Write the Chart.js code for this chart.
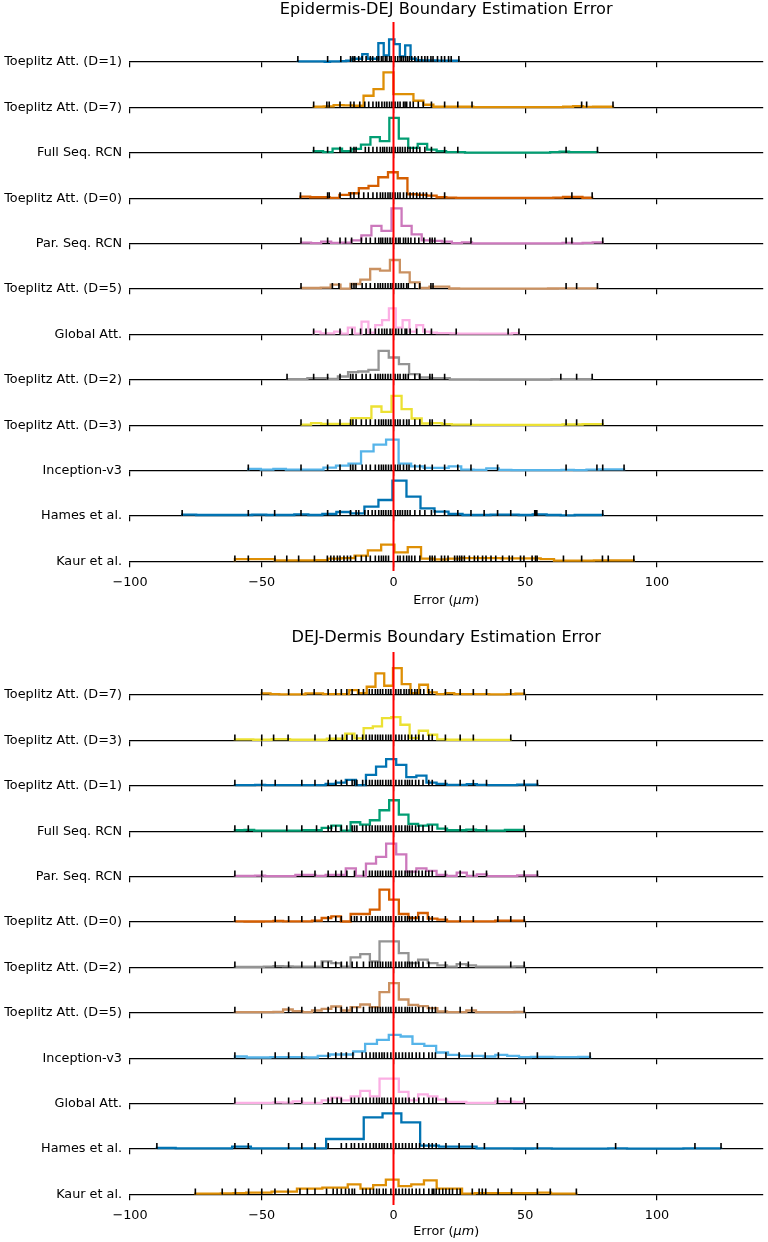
<!DOCTYPE html>
<html>
<head>
<meta charset="utf-8">
<script src="https://cdn.jsdelivr.net/npm/chart.js@4.4.1/dist/chart.umd.min.js"></script>
<style>
  html, body { margin: 0; padding: 0; background: #fff; }
  canvas { display: block; }
</style>
</head>
<body>
<canvas id="epiChart" width="768" height="620"></canvas>
<canvas id="dejChart" width="768" height="622"></canvas>
<script>
// =========================================================
// Data: per method, histogram heights (30 bins between min and max error)
// and the individual errors (rug ticks), in micrometres.
const xTicks = [-100, -50, 0, 50, 100];
const refX = 0;

const palette = {
  blue: '#0173B2', orange: '#DE8F05', green: '#029E73', vermillion: '#D55E00',
  purple: '#CC78BC', tan: '#CA9161', pink: '#FBAFE4', grey: '#949494',
  yellow: '#ECE133', sky: '#56B4E9'
};

// ---- Epidermis-DEJ ----
const epiD1Counts = [0.7, 0.7, 0.7, 0.7, 0.7, 0.3, 0.7, 0.7, 1, 1.3, 3.3, 3.3, 8, 3.3, 3.3, 19, 6.7, 22.7, 18, 5.7, 16.7, 3.3, 2, 1.7, 1.7, 1.7, 1.3, 1.3, 1.3, 1.3];
const epiD1Err = [-36.3, -25, -20, -16.3, -15.4, -14.7, -13.2, -11.9, -10.4, -8.8, -7.9, -6.3, -5.6, -4.6, -4, -3.1, -2.5, -1.5, -0.9, 0.6, 1.6, 2.5, 3.1, 3.8, 4.6, 5.3, 6, 6.9, 8.1, 9.4, 10.7, 11.9, 12.9, 14.2, 15, 16.7, 18.2, 19.4, 20.9, 21.9, 24.8];

const epiD7Counts = [0.7, 1, 2.3, 2, 1.7, 11.7, 18.3, 35, 13.3, 13.3, 6.7, 2.7, 0.7, 0.7, 0.7, 0.7, 0.3, 0.3, 0.3, 0.3, 0.3, 0.3, 0.3, 0.3, 0.3, 0.7, 1.3, 0.5, 0.7, 0.7];
const epiD7Err = [-30.3, -25.3, -24.4, -20.3, -16.3, -15, -12.8, -10.9, -9.4, -7.8, -6.5, -5.6, -4.4, -3.4, -2.5, -1.5, -0.6, 0.6, 1.6, 2.5, 3.8, 4.4, 5, 6.3, 7.5, 9.4, 11.3, 14.4, 19.4, 24.4, 29.8, 71.4, 73.3, 83.3];

const epiFullCounts = [1.7, 0.7, 4.3, 1.7, 4, 8.3, 15.7, 11.7, 35, 14.3, 5, 9, 3.3, 1.7, 0.7, 0.7, 0.3, 0.3, 0.3, 0.3, 0.3, 0.3, 0.3, 0.3, 0.3, 0.7, 1.3, 0.7, 0.7, 0.7];
const epiFullErr = [-30.3, -25, -20.3, -16.3, -15, -14.2, -10.7, -9.4, -7.8, -6.3, -5, -4.1, -3.4, -2.5, -1.5, -0.6, 0.6, 1.6, 2.5, 3.4, 4.4, 5.4, 6.3, 7.5, 8.8, 10, 11.9, 14.4, 19.4, 24.4, 65.5, 77.4];

const epiD0Counts = [1.7, 1, 1, 0.3, 3.3, 5, 10, 12.3, 21, 26, 20, 4, 3.3, 2.7, 1, 0.7, 0.3, 0.3, 0.3, 0.3, 0.3, 0.3, 0.3, 0.3, 0.3, 0.3, 0.7, 1.3, 1.3, 0.5];
const epiD0Err = [-35.3, -25, -24.4, -20.3, -16.3, -15, -13.2, -11.3, -9.6, -7.8, -6.3, -5, -4.1, -3.1, -2.1, -1.3, -0.4, 0.6, 1.6, 2.5, 3.8, 5, 6.3, 7.5, 8.8, 10, 11.3, 12.5, 14.4, 19.4, 67.7, 75.4];

const epiParCounts = [1, 0.5, 2, 0.7, 1, 3.3, 8.3, 17.7, 12.7, 35.3, 17.7, 9.3, 3.3, 2.7, 2, 0.5, 1.3, 0.3, 0.3, 0.3, 0.3, 0.3, 0.3, 0.3, 0.3, 0.3, 0.7, 0.3, 0.7, 1.3];
const epiParErr = [-35.1, -25, -20.3, -18.2, -15.9, -12.2, -10.4, -8.8, -6.9, -5.6, -4.8, -4.1, -3.1, -2.3, -1.3, -0.4, 0.9, 1.9, 2.5, 3.8, 4.6, 5.6, 6.6, 8.1, 9.6, 11.5, 13.8, 14.7, 15.7, 19.4, 29.4, 65.5, 67.7, 79.4];

const epiD5Counts = [1, 1, 1.3, 4.3, 0.3, 5, 9.3, 20, 18.3, 29, 16.7, 6.7, 1, 2.3, 2.3, 0.5, 0.3, 0.3, 0.3, 0.3, 0.3, 0.3, 0.3, 0.3, 0.3, 0.5, 0.7, 0.7, 0.7, 0.7];
const epiD5Err = [-35.1, -23.2, -20.7, -15.9, -15, -14.2, -11.9, -10.4, -8.8, -7.1, -5.9, -5, -4.1, -3.1, -2.1, -1.1, -0.4, 0.9, 1.9, 2.9, 3.8, 5, 5.6, 8.1, 10, 14.2, 15, 65.5, 69.5, 77.4];

const epiGlobCounts = [2.7, 1, 1, 2.7, 0.7, 6.7, 0.7, 12.7, 1.7, 9.3, 14.3, 26, 6.7, 14.3, 2.7, 9.3, 2.7, 1.7, 1.3, 1.3, 1, 0.7, 0.7, 0.7, 0.7, 0.7, 0.7, 0.7, 0.7, 1.3];
const epiGlobErr = [-30.3, -25.7, -20.3, -15.7, -12.5, -10.4, -8.8, -6.9, -5.6, -4.4, -3.4, -2.5, -1.3, -0.4, 0.9, 1.9, 3.1, 4.4, 5, 6.3, 8.8, 11.9, 14.4, 23.8, 43.5, 47.6];

const epiD2Counts = [0.7, 0.7, 1.7, 1.7, 1, 3.3, 7.7, 8.3, 10, 29, 22.3, 15.7, 5.7, 2.3, 1.7, 1.7, 0.5, 0.5, 0.5, 0.3, 0.3, 0.3, 0.3, 0.3, 0.3, 0.3, 0.7, 0.7, 0.7, 0.7];
const epiD2Err = [-40.4, -30.3, -25, -20.3, -16.3, -15.4, -14.2, -11.9, -10.4, -8.8, -6.9, -5.9, -5, -4.1, -3.1, -2.1, -1.1, 0.6, 1.6, 2.5, 3.8, 4.6, 5.6, 8.1, 10, 13.8, 14.7, 19.4, 63.5, 69.5, 75.4];

const epiD3Counts = [0.5, 2, 1.3, 1.3, 1.3, 7, 7, 18.7, 13.3, 29.3, 16, 6.7, 1.7, 2, 1, 0.5, 0.5, 0.3, 0.3, 0.3, 0.3, 0.3, 0.3, 0.3, 0.3, 0.3, 0.7, 0.7, 1, 1];
const epiD3Err = [-35.1, -25, -20.3, -16.3, -15.4, -14.2, -12.2, -10.4, -8.8, -6.9, -5.6, -4.6, -3.8, -2.9, -1.9, -1, 0.6, 1.6, 2.5, 3.8, 5, 5.9, 8.1, 10, 13.8, 14.7, 19.4, 29.4, 65.5, 69.5, 79.4];

const epiIncCounts = [1.7, 1, 1.7, 1, 1, 1, 3, 5, 7, 19.3, 26, 31, 7, 4.3, 2.7, 2.7, 4.3, 1, 0.7, 2.3, 0.7, 0.5, 0.5, 0.5, 0.5, 0.7, 0.5, 1, 1.3, 1.3];
const epiIncErr = [-55.1, -35.1, -25, -20.3, -16.3, -15.4, -14.4, -11.9, -10.4, -8.8, -6.9, -5.6, -4.6, -3.8, -2.9, -1.9, -0.9, 0.6, 1.6, 2.5, 3.8, 5, 5.9, 8.1, 10, 11.9, 14.7, 19.4, 24.4, 29.4, 39.5, 65.5, 77.2, 79.4, 87.5];

const epiHamesCounts = [1.3, 1, 1, 1, 1, 1.3, 1, 1, 1.7, 1, 2, 4, 2.7, 9.3, 16, 35.3, 19.3, 7.7, 4.3, 2, 1, 1, 1.3, 1.3, 1, 1.7, 1, 0.7, 1, 1];
const epiHamesErr = [-80.2, -55.1, -45.1, -35.1, -25, -20.3, -16.3, -14.2, -13.2, -10.9, -9.6, -8.1, -6.9, -5.6, -4.6, -3.8, -2.9, -1.9, -1, 0.6, 1.6, 2.5, 3.4, 4.4, 5.3, 6.3, 8.1, 10, 11.9, 14.4, 15.7, 19.4, 24.4, 29.4, 34.4, 39.5, 44.5, 53.6, 54, 54.4, 65.5, 79.4];

const epiKaurCounts = [2.3, 2.3, 2.3, 1, 1, 1, 1.3, 2.7, 3.3, 5.7, 11, 16.7, 9, 14.3, 2.7, 2, 2.7, 3.3, 3.3, 3.3, 3, 3, 3, 2.3, 0.7, 0.7, 0.7, 1, 1, 1];
const epiKaurErr = [-60.2, -55.1, -45, -40.5, -36, -30, -25.1, -23.8, -22.6, -21.3, -20.3, -18.8, -17.5, -16.3, -14.4, -12.2, -10.4, -8.8, -6.9, -5.6, -4.6, -3.8, -2.9, -1.9, 1.6, 2.5, 3.8, 5, 5.9, 6.9, 8.1, 10, 13.8, 14.7, 15.7, 18.2, 19.4, 20.7, 23.2, 24.2, 25.1, 25.9, 26.9, 28.8, 30.7, 32, 33.8, 35.1, 37, 38.8, 41.4, 43.9, 45.1, 48.2, 49.5, 52.6, 53.9, 54.5, 64.5, 71.4, 79.3, 81.5, 91.2];

// ---- DEJ-Dermis ----
const dejD7Counts = [1.7, 1, 0.7, 0.7, 0.7, 1.7, 1.7, 1, 1, 1, 5, 2, 8.3, 21.7, 9.3, 27, 11, 2, 10.3, 2.7, 1, 2, 1, 1, 1, 1, 0.7, 0.7, 1, 1.3];
const dejD7Err = [-50, -39.8, -34.8, -30.1, -24.8, -21.9, -19.8, -17.7, -15.7, -13.2, -11.4, -9.2, -8.1, -6.9, -6, -5, -4.1, -2.9, -1.9, -1, 0.9, 1.9, 2.8, 4, 4.9, 5.9, 6.9, 8.1, 9, 10.2, 11.5, 13.4, 14.7, 19.7, 25.3, 30.3, 35.3, 44.5, 49.6];

const dejD3Counts = [1, 1, 0.7, 0.7, 1.3, 1.3, 0.7, 0.7, 0.7, 0.7, 1.7, 1.7, 6.7, 2, 12.3, 14, 22.3, 23.3, 15.7, 2.3, 9.7, 5.7, 1, 0.7, 0.7, 0.7, 0.5, 0.5, 0.5, 0.5];
const dejD3Err = [-60.2, -50, -45.5, -40, -29.8, -24.2, -21.9, -19.4, -17.7, -15.7, -13.9, -11.7, -10.4, -9.1, -8.1, -6.9, -6, -5, -4.1, -2.9, -1.9, -1, 0.9, 2.1, 3.1, 4.4, 5.6, 6.9, 8.4, 9.6, 11.2, 13.4, 14.7, 19.7, 25.3, 30.3, 44.5];

const dejD1Counts = [0.7, 0.7, 1, 0.7, 0.7, 0.7, 0.7, 0.7, 0.7, 2, 3.3, 6, 0.7, 11, 19.3, 26.7, 21, 8.7, 10.3, 3.3, 2, 1, 1, 1.7, 1, 0.7, 0.7, 0.7, 1.3, 1.3];
const dejD1Err = [-60.2, -50, -44.9, -34.8, -29.8, -24.8, -21.9, -19.8, -17.7, -15.7, -14.8, -13.9, -11.7, -10.4, -9.1, -8.1, -6.9, -6, -5, -4.1, -2.9, -1.9, -1, 0.9, 2.1, 3.1, 4.4, 5.3, 6.1, 7.1, 8.4, 9.6, 11.2, 13.4, 14.7, 19.7, 25.3, 30.3, 35.3, 49.6, 54.6];

const dejFullCounts = [1, 1.3, 0.7, 0.7, 0.7, 0.7, 0.7, 1, 1, 3.3, 5.7, 0.7, 9, 6.7, 11, 21, 31, 16.7, 7.3, 5.7, 6.7, 2.7, 1, 1, 1.7, 1, 0.7, 0.7, 1.3, 1.3];
const dejFullErr = [-60.2, -55.1, -40.5, -34.8, -29.2, -24.8, -23.6, -21.9, -19.8, -17.7, -15.7, -14.8, -13.9, -11.7, -10.4, -9.1, -8.1, -6.9, -6, -5, -4.1, -2.9, -1.9, -1, 0.9, 2.1, 3.1, 4.4, 5.3, 6.1, 7.1, 8.4, 9.6, 11.2, 13.4, 14.7, 19.7, 25.3, 30.3, 35.3, 49.6];

const dejParCounts = [0.7, 0.7, 1, 0.5, 0.5, 0.5, 1.7, 1.7, 0.7, 1.7, 1.7, 8.3, 0.7, 13, 19.7, 33, 22.3, 5, 8.3, 5.7, 1.7, 0.7, 4, 0.7, 2.3, 0.5, 0.5, 0.5, 1.3, 1.3];
const dejParErr = [-60.2, -50, -34.8, -29.8, -24.8, -21.9, -19.8, -17.7, -14.8, -11.4, -9.1, -8.1, -6.9, -6, -5, -4.1, -2.9, -1.9, -1, 0.9, 2.1, 3.1, 4.4, 5.3, 6.1, 7.1, 8.4, 9.6, 10.9, 12.2, 13.4, 14.7, 19.7, 25.3, 30.3, 35.3, 49.6, 54.6];

const dejD0Counts = [0.7, 0.5, 0.5, 0.7, 1, 0.7, 0.7, 0.7, 1.3, 4, 5.7, 0.5, 8, 8, 12.3, 32.3, 22.3, 8, 4, 9, 3.3, 2.3, 0.7, 0.7, 0.7, 0.7, 0.7, 1.3, 1.3, 1.3];
const dejD0Err = [-60.2, -44.9, -39.8, -34.8, -29.8, -24.8, -21.9, -19.8, -16, -14.8, -13.9, -12.3, -10.4, -9.1, -8.1, -6.9, -6, -5, -4.1, -2.9, -1.9, -1, 0.9, 2.1, 3.1, 4.4, 5.3, 6.1, 7.1, 8.4, 9.6, 11.2, 13.4, 14.7, 19.7, 25.3, 30.3, 39.6, 44.5, 49.6];

const dejD2Counts = [0.5, 0.5, 0.5, 0.7, 1.3, 1, 0.7, 0.7, 0.7, 6, 4.3, 0.7, 10, 13.3, 6, 26, 26, 14.3, 4.3, 7.7, 4.3, 2, 0.7, 3.3, 2, 0.7, 0.7, 0.7, 0.7, 1];
const dejD2Err = [-60.2, -44.9, -39.8, -34.8, -29.8, -26.9, -24.8, -21.9, -19.8, -17.7, -15.7, -13.9, -11.4, -9.1, -8.1, -6.9, -6, -5, -4.1, -2.9, -1.9, -1, 0.9, 2.1, 3.1, 4.4, 5.3, 6.1, 7.1, 8.4, 9.6, 11.2, 13.4, 19.7, 25.3, 28.4, 44.5, 49.6];

const dejD5Counts = [0.7, 0.7, 0.7, 0.7, 1, 3.3, 1.7, 0.7, 2.3, 4, 6.3, 2.3, 5.7, 8.3, 5.7, 20.7, 29.7, 13.3, 8, 6.7, 4.7, 1.3, 0.7, 0.7, 2.3, 0.7, 0.7, 0.7, 0.7, 1];
const dejD5Err = [-60.2, -39.8, -34.8, -29.8, -24.8, -21.9, -19.8, -17.7, -15.7, -13.9, -11.4, -9.1, -8.1, -6.9, -6, -5, -4.1, -2.9, -1.9, -1, 0.9, 2.1, 3.1, 4.4, 5.3, 6.1, 7.1, 8.4, 9.6, 11.2, 13.4, 14.7, 15.9, 19.7, 25.3, 29.7, 49.6];

const dejIncCounts = [1.7, 0.7, 0.7, 1, 1, 1, 0.7, 2.3, 3.7, 3.7, 6.7, 14.3, 18.3, 23.3, 21.7, 14.3, 12.3, 5.7, 3.3, 2.3, 2.3, 1.7, 3.3, 2.3, 1, 1.3, 1.3, 1, 1, 1.3];
const dejIncErr = [-60.2, -44.9, -39.8, -34.8, -24.8, -21.9, -19.8, -17.9, -15.4, -11.9, -10.4, -8.9, -7.6, -6.6, -5.4, -4.4, -3.5, -2.3, -1, 0.9, 2.1, 3.4, 4.6, 5.9, 7.1, 8.6, 9.9, 11.5, 13.4, 14.7, 15.9, 19.9, 24.9, 29.9, 34.8, 39.8, 54.6, 74.6];

const dejGlobCounts = [0.7, 0.7, 0.7, 0.7, 1.3, 1, 2.3, 0.7, 0.7, 3.3, 6, 3.3, 7.3, 12.7, 7.3, 25, 25, 11.7, 3.3, 9.3, 7.3, 4, 1.7, 1.7, 0.7, 0.7, 0.7, 2.3, 2, 1.7];
const dejGlobErr = [-60.2, -44.9, -39.8, -34.8, -29.8, -24.8, -23.2, -21.4, -19.8, -16, -14.8, -13.2, -11.7, -10.4, -8.9, -7.6, -6.4, -5.4, -4.4, -3.5, -2.3, -1, 0.9, 2.1, 3.4, 4.6, 5.9, 7.8, 9.6, 11.5, 13.4, 14.9, 16.2, 19.9, 39.5, 44.5, 49.6];

const dejHamesCounts = [1, 0.7, 0.7, 0.7, 2.3, 0.7, 0.7, 0.7, 0.7, 10, 10, 31.7, 35.7, 26.7, 3.3, 2.3, 2.3, 0.7, 0.7, 0.5, 0.7, 0.3, 0.3, 0.3, 0.7, 0.3, 0.3, 0.3, 0.7, 0.7];
const dejHamesErr = [-89.8, -60.2, -55.1, -39.8, -34.8, -29.8, -24.8, -19.8, -17.9, -16, -14.8, -13.2, -11.7, -10.4, -8.9, -7.6, -6.6, -5.4, -4.4, -3.5, -2.3, -1, 0.9, 2.1, 3.4, 4.6, 5.9, 7.1, 8.6, 9.9, 11.5, 13.4, 14.7, 16.2, 19.9, 24.9, 29.9, 34.5, 54.6, 84.3, 114.4, 124.3];

const dejKaurCounts = [0.7, 0.7, 1, 1.3, 1.7, 1.7, 2.7, 2.7, 5.7, 5.7, 6.7, 6.7, 10, 5.7, 9.3, 14.7, 8.3, 10, 14, 5.7, 5.7, 0.7, 1.3, 1.3, 1.3, 1.3, 1.3, 1.7, 0.7, 0.7];
const dejKaurErr = [-75.2, -65, -60, -55, -50, -45, -40, -35.5, -32.7, -29.8, -25.4, -22.9, -21.4, -19.8, -18.2, -16.9, -15.7, -14.8, -11.7, -10.4, -8.9, -7.6, -6.4, -5.4, -3.9, -2.9, -1, 0.9, 2.1, 3.4, 4.6, 5.9, 7.1, 8.6, 9.9, 11.5, 13.4, 14.7, 15.3, 16.2, 17.4, 18.7, 19.9, 21.2, 22.4, 24.1, 25.3, 29.9, 32.5, 33.7, 35, 39.7, 44.8, 54.6, 59.5, 69.4];

// Row order (top to bottom) for each panel
const epiRows = [
  ['Toeplitz Att. (D=1)', epiD1Counts, epiD1Err, palette.blue],
  ['Toeplitz Att. (D=7)', epiD7Counts, epiD7Err, palette.orange],
  ['Full Seq. RCN', epiFullCounts, epiFullErr, palette.green],
  ['Toeplitz Att. (D=0)', epiD0Counts, epiD0Err, palette.vermillion],
  ['Par. Seq. RCN', epiParCounts, epiParErr, palette.purple],
  ['Toeplitz Att. (D=5)', epiD5Counts, epiD5Err, palette.tan],
  ['Global Att.', epiGlobCounts, epiGlobErr, palette.pink],
  ['Toeplitz Att. (D=2)', epiD2Counts, epiD2Err, palette.grey],
  ['Toeplitz Att. (D=3)', epiD3Counts, epiD3Err, palette.yellow],
  ['Inception-v3', epiIncCounts, epiIncErr, palette.sky],
  ['Hames et al.', epiHamesCounts, epiHamesErr, palette.blue],
  ['Kaur et al.', epiKaurCounts, epiKaurErr, palette.orange]
];
const dejRows = [
  ['Toeplitz Att. (D=7)', dejD7Counts, dejD7Err, palette.orange],
  ['Toeplitz Att. (D=3)', dejD3Counts, dejD3Err, palette.yellow],
  ['Toeplitz Att. (D=1)', dejD1Counts, dejD1Err, palette.blue],
  ['Full Seq. RCN', dejFullCounts, dejFullErr, palette.green],
  ['Par. Seq. RCN', dejParCounts, dejParErr, palette.purple],
  ['Toeplitz Att. (D=0)', dejD0Counts, dejD0Err, palette.vermillion],
  ['Toeplitz Att. (D=2)', dejD2Counts, dejD2Err, palette.grey],
  ['Toeplitz Att. (D=5)', dejD5Counts, dejD5Err, palette.tan],
  ['Inception-v3', dejIncCounts, dejIncErr, palette.sky],
  ['Global Att.', dejGlobCounts, dejGlobErr, palette.pink],
  ['Hames et al.', dejHamesCounts, dejHamesErr, palette.blue],
  ['Kaur et al.', dejKaurCounts, dejKaurErr, palette.orange]
];

// =======================
// Style
// =======================
const rowGap = 45.4;
const rugLen = 6;
const fontFamily = "'DejaVu Sans', sans-serif";
const fontSize = 12.8;
const labelFont = { size: fontSize };
Chart.defaults.font.family = fontFamily;
Chart.defaults.color = '#000';

function fmtTick(v) {
  return v < 0 ? '\u2212' + Math.abs(v) : String(v);
}

// x-axis title with the italic unit, like matplotlib mathtext
const axisTitlePlugin = {
  id: 'axisTitle',
  afterDraw(chart, args, opts) {
    const { ctx, chartArea } = chart;
    const parts = [['Error (', ''], ['\u03bcm', 'italic '], [')', '']];
    ctx.save();
    ctx.fillStyle = '#000';
    ctx.textBaseline = 'middle';
    let total = 0;
    parts.forEach(p => { ctx.font = p[1] + fontSize + 'px ' + fontFamily; total += ctx.measureText(p[0]).width; });
    let x = (chartArea.left + chartArea.right) / 2 - total / 2;
    parts.forEach(p => {
      ctx.font = p[1] + fontSize + 'px ' + fontFamily;
      ctx.fillText(p[0], x, opts.y);
      x += ctx.measureText(p[0]).width;
    });
    ctx.restore();
  }
};

function buildPanel(canvasId, titleText, rows, geom) {
  const bases = rows.map((r, k) => geom.firstBase - k * rowGap);
  const datasets = [{
    type: 'line',
    data: [{ x: refX, y: 0 }, { x: refX, y: geom.yMax }],
    borderColor: '#ff0000', borderWidth: 2, pointRadius: 0,
    xAxisID: 'r0', yAxisID: 'y', order: 0
  }];

  rows.forEach((r, k) => {
    const counts = r[1], errs = r[2];
    const lo = Math.min(...errs), hi = Math.max(...errs);
    const w = (hi - lo) / counts.length;
    const pts = [{ x: lo, y: bases[k] }];
    counts.forEach((c, i) => pts.push({ x: lo + i * w, y: bases[k] + c }));
    pts.push({ x: hi, y: bases[k] });
    datasets.push({
      type: 'line', data: pts, stepped: true, fill: false,
      borderColor: r[3], borderWidth: 2.3, borderJoinStyle: 'miter',
      pointRadius: 0, xAxisID: 'r0', yAxisID: 'y', order: 2
    });
    datasets.push({
      type: 'scatter',
      data: errs.map(e => ({ x: e, y: bases[k] + rugLen / 2 })),
      pointStyle: 'line', pointRotation: 90, pointRadius: rugLen / 2,
      pointBorderColor: '#000', pointBorderWidth: 1.6,
      xAxisID: 'r0', yAxisID: 'y', order: 1
    });
  });

  const scales = {
    y: {
      type: 'linear', axis: 'y', position: 'left', min: 0, max: geom.yMax,
      afterFit: s => { s.width = 130; },
      afterBuildTicks: s => { s.ticks = bases.map(v => ({ value: v })); },
      ticks: { autoSkip: false, padding: 8, color: '#000', font: labelFont,
               callback: (v, i) => rows[i][0] },
      grid: { display: false, drawTicks: false }, border: { display: false }
    }
  };
  rows.forEach((r, k) => {
    scales['r' + k] = {
      type: 'linear', axis: 'x', position: { y: bases[k] }, min: -100, max: 140,
      afterBuildTicks: s => { s.ticks = xTicks.map(v => ({ value: v })); },
      grid: { drawOnChartArea: false, drawTicks: true, tickLength: 5,
              color: '#000', lineWidth: 1.2, z: -1 },
      border: { display: true, color: '#000', width: 1.3 },
      ticks: { display: k === rows.length - 1, padding: 8.5, color: '#000',
               font: labelFont, maxRotation: 0, autoSkip: false,
               callback: v => fmtTick(v) }
    };
  });

  new Chart(document.getElementById(canvasId), {
    data: { datasets },
    options: {
      responsive: false,
      animation: false,
      events: [],
      layout: { padding: { left: 0, right: 0, top: 0, bottom: geom.bottomPad } },
      scales,
      plugins: {
        legend: { display: false },
        tooltip: { enabled: false },
        title: {
          display: true, text: titleText, fullSize: false, color: '#000',
          font: { size: 16.2, weight: 'normal' },
          padding: { top: geom.titleTop, bottom: geom.titleBottom }
        },
        axisTitle: { y: geom.axisTitleY }
      }
    },
    plugins: [axisTitlePlugin]
  });
}

buildPanel('epiChart', 'Epidermis-DEJ Boundary Estimation Error', epiRows,
  { yMax: 549, firstBase: 509, titleTop: 0.3, titleBottom: 2.3, bottomPad: 49, axisTitleY: 601 });
buildPanel('dejChart', 'DEJ-Dermis Boundary Estimation Error', dejRows,
  { yMax: 553, firstBase: 510, titleTop: 8.3, titleBottom: 4.3, bottomPad: 37, axisTitleY: 612 });
</script>
</body>
</html>
